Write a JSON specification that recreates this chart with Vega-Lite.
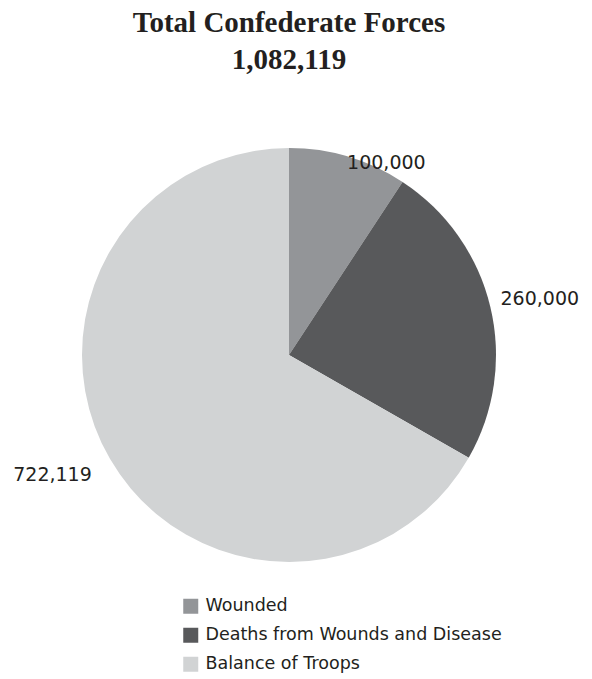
{
  "$schema": "https://vega.github.io/schema/vega-lite/v6.json",
  "autosize": {"type": "none"},
  "width": 578,
  "height": 530,
  "padding": {"left": 0, "top": 90, "right": 14, "bottom": 59},
  "background": "white",
  "title": {
    "text": ["Total Confederate Forces", "1,082,119"],
    "font": "Liberation Serif",
    "fontSize": 29,
    "fontWeight": "bold",
    "lineHeight": 37,
    "color": "#231f20",
    "anchor": "middle",
    "offset": 15
  },
  "data": {
    "values": [
      {"category": "Wounded", "value": 100000, "label": "100,000"},
      {"category": "Deaths from Wounds and Disease", "value": 260000, "label": "260,000"},
      {"category": "Balance of Troops", "value": 722119, "label": "722,119"}
    ]
  },
  "transform": [
    {"stack": "value", "groupby": [], "sort": [{"field": "value", "order": "ascending"}], "as": ["v0", "v1"]}
  ],
  "layer": [
    {
      "mark": {"type": "arc", "radius": 207},
      "encoding": {
        "theta": {"field": "v0", "type": "quantitative", "stack": null, "scale": {"domain": [0, 1082119]}},
        "theta2": {"field": "v1"},
        "color": {
          "field": "category",
          "type": "nominal",
          "scale": {
            "domain": ["Wounded", "Deaths from Wounds and Disease", "Balance of Troops"],
            "range": ["#939598", "#58595b", "#d1d3d4"]
          },
          "legend": {
            "title": null,
            "orient": "none",
            "legendX": 182,
            "legendY": 507.5,
            "symbolType": "square",
            "symbolSize": 225,
            "symbolStrokeWidth": 0,
            "labelFont": "DejaVu Sans",
            "labelFontSize": 17.5,
            "labelColor": "#231f20",
            "labelOffset": 6,
            "labelLimit": 400,
            "rowPadding": 10
          }
        }
      }
    },
    {
      "transform": [{"filter": "datum.category === 'Wounded'"}],
      "mark": {"type": "text", "radius": 215, "thetaOffset": 0.47, "font": "DejaVu Sans", "fontSize": 19, "color": "#231f20", "align": "center", "baseline": "middle"},
      "encoding": {"theta": {"field": "v0", "type": "quantitative", "stack": null}, "text": {"field": "label"}}
    },
    {
      "transform": [{"filter": "datum.category === 'Deaths from Wounds and Disease'"}],
      "mark": {"type": "text", "radius": 257, "thetaOffset": 0.770, "font": "DejaVu Sans", "fontSize": 19, "color": "#231f20", "align": "center", "baseline": "middle"},
      "encoding": {"theta": {"field": "v0", "type": "quantitative", "stack": null}, "text": {"field": "label"}}
    },
    {
      "transform": [{"filter": "datum.category === 'Balance of Troops'"}],
      "mark": {"type": "text", "radius": 265, "thetaOffset": 2.154, "font": "DejaVu Sans", "fontSize": 19, "color": "#231f20", "align": "center", "baseline": "middle"},
      "encoding": {"theta": {"field": "v0", "type": "quantitative", "stack": null}, "text": {"field": "label"}}
    }
  ]
}
